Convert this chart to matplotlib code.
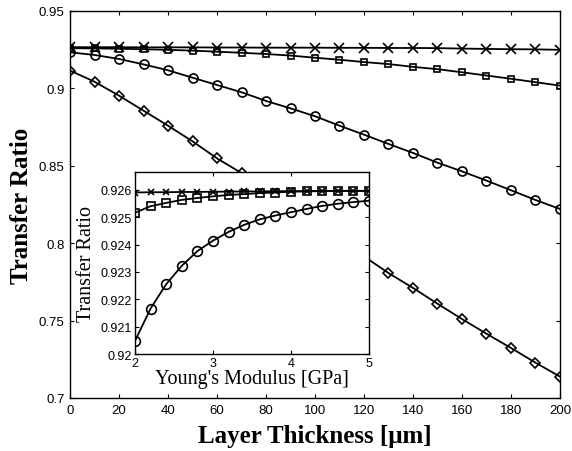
import matplotlib
matplotlib.use("Agg")
import matplotlib.pyplot as plt
import numpy as np

# Main plot data: transfer ratio vs layer thickness
thickness = [0, 10, 20, 30, 40, 50, 60, 70, 80, 90, 100,
             110, 120, 130, 140, 150, 160, 170, 180, 190, 200]
ratio_x = [0.9266, 0.9266, 0.9266, 0.9265, 0.9265, 0.9265, 0.9264, 0.9264, 0.9263, 0.9263, 0.9263,
           0.9262, 0.9262, 0.9261, 0.9261, 0.9260, 0.9257, 0.9255, 0.9253, 0.9252, 0.9249]
ratio_sq = [0.9260, 0.9258, 0.9256, 0.9253, 0.9249, 0.9244, 0.9237, 0.9230, 0.9222, 0.9212, 0.9198,
            0.9185, 0.9170, 0.9157, 0.9139, 0.9124, 0.9104, 0.9083, 0.9062, 0.9040, 0.9018]
ratio_o = [0.9233, 0.9216, 0.9190, 0.9155, 0.9117, 0.9069, 0.9022, 0.8975, 0.8919, 0.8871, 0.8820,
           0.8759, 0.8701, 0.8641, 0.8583, 0.8520, 0.8464, 0.8404, 0.8342, 0.8279, 0.8221]
ratio_d = [0.9115, 0.9043, 0.8953, 0.8856, 0.8759, 0.8658, 0.8548, 0.8453, 0.8347, 0.8240, 0.8132,
           0.8024, 0.7915, 0.7807, 0.7711, 0.7609, 0.7510, 0.7415, 0.7323, 0.7228, 0.7138]

# Inset data: transfer ratio vs Young's modulus
modulus = [2.0, 2.2, 2.4, 2.6, 2.8, 3.0, 3.2, 3.4, 3.6, 3.8, 4.0, 4.2, 4.4, 4.6, 4.8, 5.0]
in_x = [0.92590, 0.92591, 0.92591, 0.92592, 0.92592, 0.92593, 0.92593, 0.92594,
        0.92594, 0.92595, 0.92595, 0.92595, 0.92596, 0.92596, 0.92596, 0.92596]
in_sq = [0.92516, 0.92540, 0.92552, 0.92563, 0.92570, 0.92576, 0.92581, 0.92584,
         0.92588, 0.92590, 0.92593, 0.92594, 0.92595, 0.92596, 0.92596, 0.92596]
in_o = [0.92048, 0.92166, 0.92255, 0.92322, 0.92376, 0.92414, 0.92446, 0.92472,
        0.92492, 0.92506, 0.92518, 0.92530, 0.92541, 0.92549, 0.92555, 0.92560]

main_yticks = [0.7, 0.75, 0.8, 0.85, 0.9, 0.95]
main_yticklabels = ["0.7", "0.75", "0.8", "0.85", "0.9", "0.95"]
inset_yticks = [0.920, 0.921, 0.922, 0.923, 0.924, 0.925, 0.926]
inset_yticklabels = ["0.92", "0.921", "0.922", "0.923", "0.924", "0.925", "0.926"]

sans = "Liberation Sans"
serif = "Liberation Serif"

fig = plt.figure(figsize=(5.72, 4.52), dpi=100)

# main axes
ax = fig.add_axes([0.1224, 0.1173, 0.8566, 0.8562])
style = dict(color="black", linewidth=1.3, markerfacecolor="none", markeredgecolor="black",
             markeredgewidth=1.2)
ax.plot(thickness, ratio_x, marker="x", markersize=7.5, **style)
ax.plot(thickness, ratio_sq, marker="s", markersize=4.5, **style)
ax.plot(thickness, ratio_o, marker="o", markersize=6.5, **style)
ax.plot(thickness, ratio_d, marker="D", markersize=5.5, **style)

ax.set_xlim(0, 200)
ax.set_ylim(0.7, 0.95)
ax.set_xticks(range(0, 201, 20))
ax.set_yticks(main_yticks)
ax.set_yticklabels(main_yticklabels)
ax.tick_params(direction="in", top=True, right=True, length=3, width=0.8,
               labelsize=9.5, pad=4)
for lab in ax.get_xticklabels() + ax.get_yticklabels():
    lab.set_family(sans)
for s in ax.spines.values():
    s.set_linewidth(1.0)
ax.set_xlabel("Layer Thickness [\u03bcm]", family=serif, fontweight="bold",
              fontsize=18, labelpad=6)
ax.set_ylabel("Transfer Ratio", family=serif, fontweight="bold", fontsize=18, labelpad=4)

# inset axes
ins = fig.add_axes([0.236, 0.2146, 0.409, 0.4027])
ins.plot(modulus, in_x, marker="x", markersize=5, **style)
ins.plot(modulus, in_sq, marker="s", markersize=6, **style)
ins.plot(modulus, in_o, marker="o", markersize=7, **style)
ins.set_xlim(2, 5)
ins.set_ylim(0.92, 0.92665)
ins.set_xticks([2, 3, 4, 5])
ins.set_yticks(inset_yticks)
ins.set_yticklabels(inset_yticklabels)
ins.tick_params(direction="in", top=True, right=True, length=3, width=0.8,
                labelsize=9, pad=2)
for lab in ins.get_xticklabels() + ins.get_yticklabels():
    lab.set_family(sans)
for s in ins.spines.values():
    s.set_linewidth(1.0)
ins.set_xlabel("Young's Modulus [GPa]", family=serif, fontsize=14.5)
ins.xaxis.set_label_coords(0.5, -0.085)
ins.set_ylabel("Transfer Ratio", family=serif, fontsize=14.5)
ins.yaxis.set_label_coords(-0.168, 0.5)

fig.savefig("out.png", dpi=100)
